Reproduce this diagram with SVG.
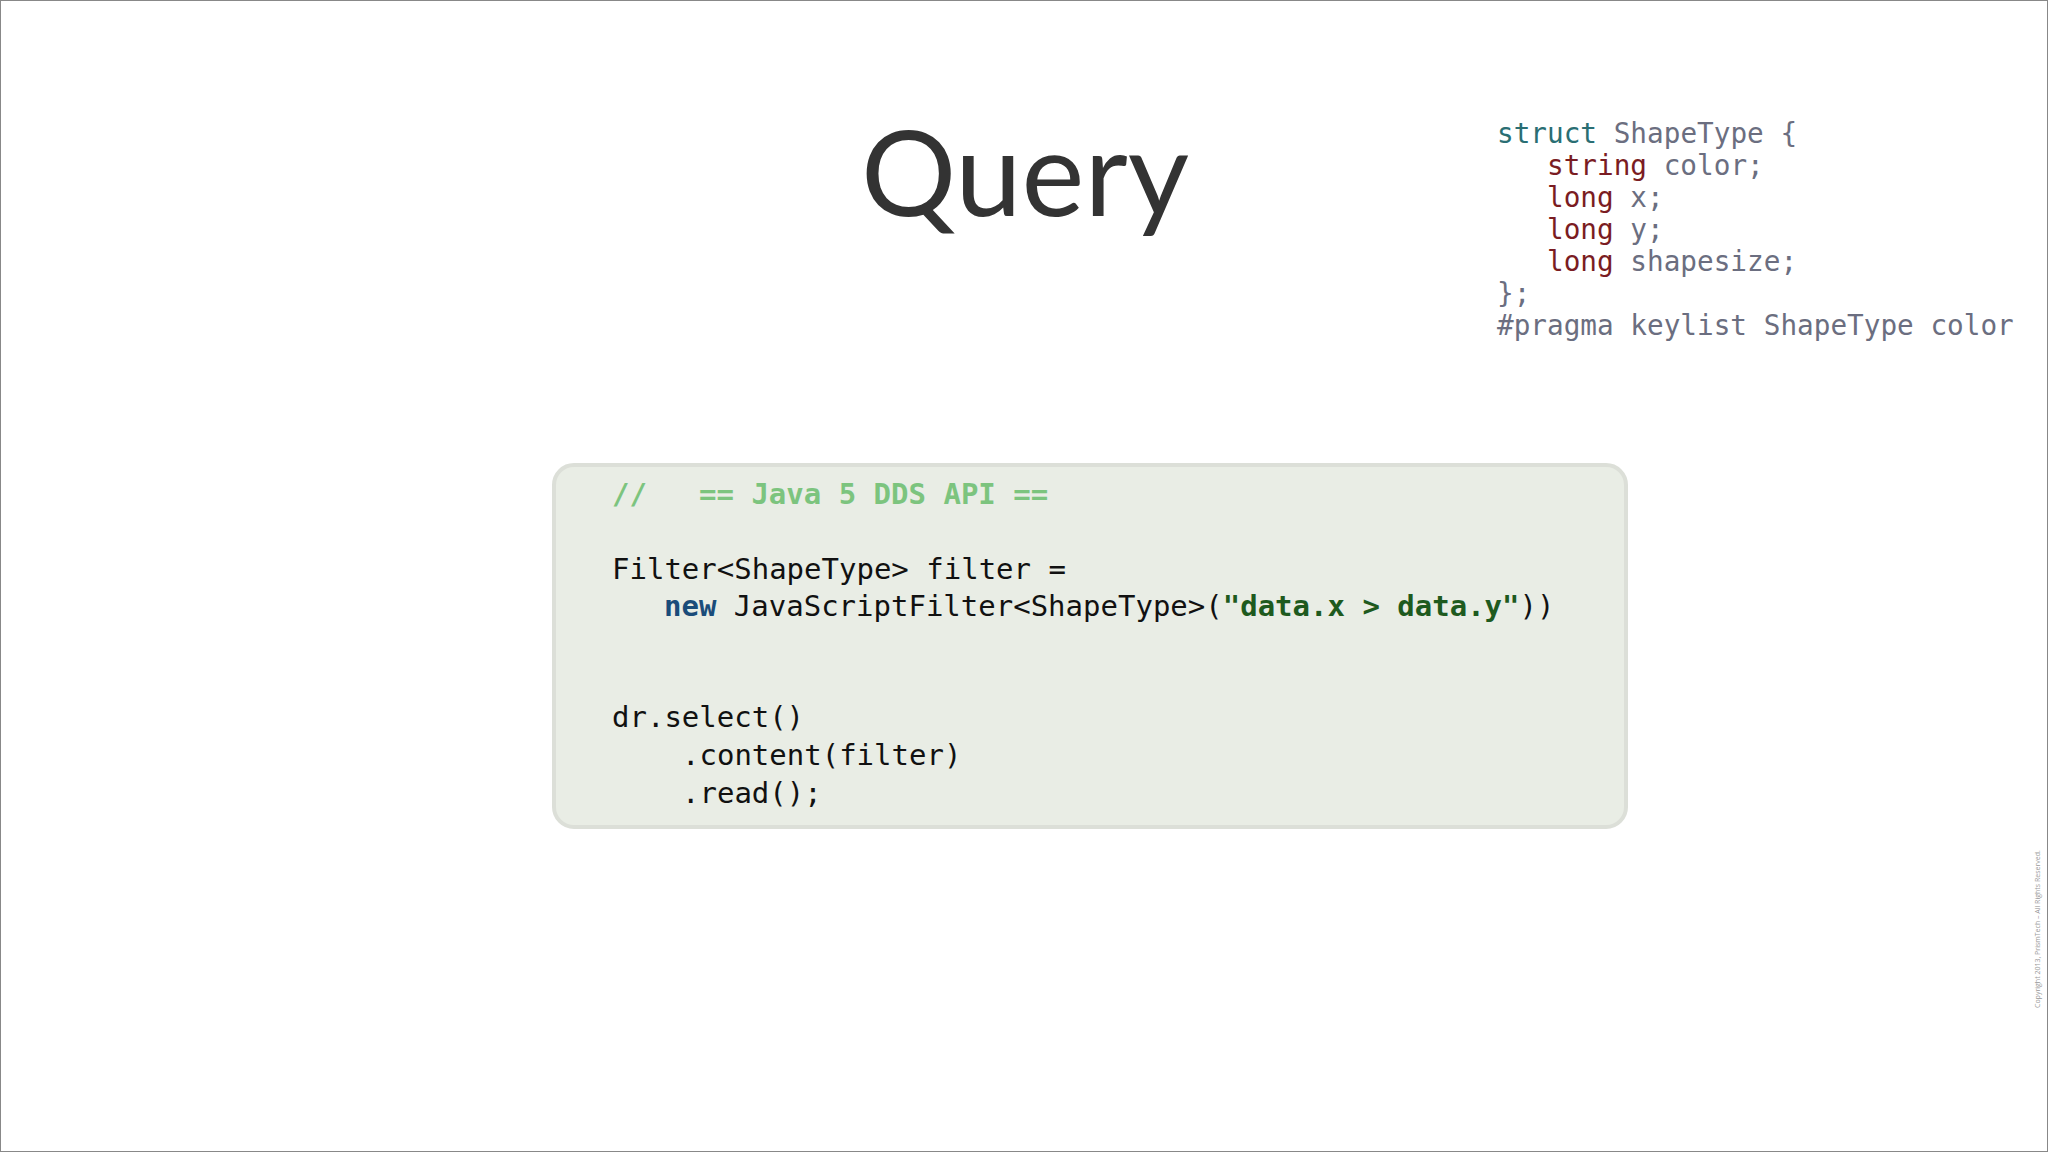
<svg xmlns="http://www.w3.org/2000/svg" width="2048" height="1152" viewBox="0 0 2048 1152">
<style>
.m{font-family:"DejaVu Sans Mono","Liberation Mono",monospace}
.s{font-size:27.7px;fill:#6b6e80}
.c{font-size:29px;fill:#111}
</style>
<rect x="0" y="0" width="2048" height="1152" fill="#fff" stroke="#888" stroke-width="2"/>
<g id="title"><text x="1025" y="216" text-anchor="middle" font-family="Lato,'Open Sans',sans-serif" font-size="119" fill="#333">Query</text></g>
<g id="struct" class="m s">
<text x="1497" y="143"><tspan fill="#2a6e73">struct</tspan> ShapeType {</text>
<text x="1547" y="175"><tspan fill="#7a1c22">string</tspan> color;</text>
<text x="1547" y="207"><tspan fill="#7a1c22">long</tspan> x;</text>
<text x="1547" y="239"><tspan fill="#7a1c22">long</tspan> y;</text>
<text x="1547" y="271"><tspan fill="#7a1c22">long</tspan> shapesize;</text>
<text x="1497" y="303">};</text>
<text x="1497" y="335">#pragma keylist ShapeType color</text>
</g>
<g id="code">
<rect x="554" y="465" width="1072" height="362" rx="20" fill="#e9ede5" stroke="#dcdfd8" stroke-width="4"/>
<g class="m c">
<text y="504" fill="#7cc47e" font-weight="bold"><tspan x="612">//</tspan><tspan x="699">== Java 5 DDS API ==</tspan></text>
<text x="612" y="579">Filter&lt;ShapeType&gt; filter =</text>
<text x="664" y="616"><tspan fill="#1a4c7a" font-weight="bold">new</tspan> JavaScriptFilter&lt;ShapeType&gt;(<tspan fill="#1e5a1e" font-weight="bold">"data.x &gt; data.y"</tspan>))</text>
<text x="612" y="727">dr.select()</text>
<text x="682" y="765">.content(filter)</text>
<text x="682" y="803">.read();</text>
</g>
</g>
<g id="copyright"><text transform="translate(2040,1008) rotate(-90)" font-family="'Open Sans',sans-serif" font-size="7" fill="#999">Copyright 2013, PrismTech – All Rights Reserved.</text></g>
</svg>
